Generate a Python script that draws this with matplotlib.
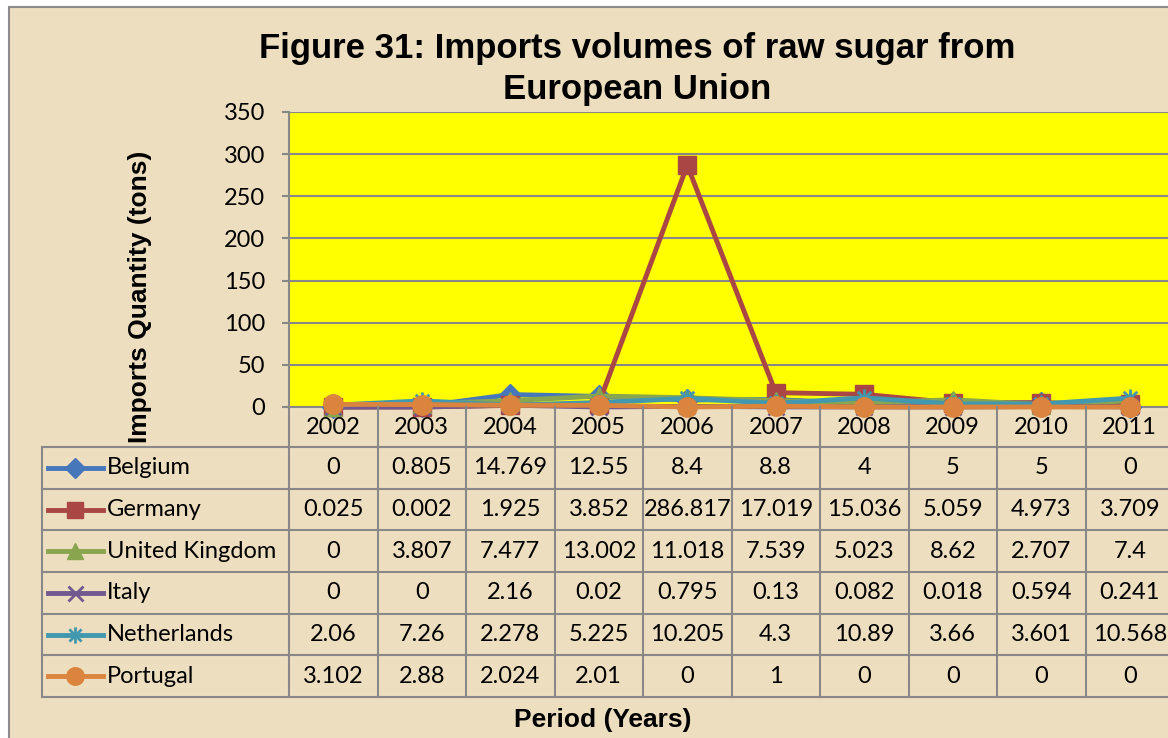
import matplotlib.pyplot as plt
from matplotlib.lines import Line2D
from matplotlib.patches import Rectangle
from matplotlib.path import Path
from matplotlib.transforms import blended_transform_factory

# Data (tons)
years = ["2002", "2003", "2004", "2005", "2006", "2007", "2008", "2009", "2010", "2011"]
belgium = [0, 0.805, 14.769, 12.55, 8.4, 8.8, 4, 5, 5, 0]
germany = [0.025, 0.002, 1.925, 3.852, 286.817, 17.019, 15.036, 5.059, 4.973, 3.709]
united_kingdom = [0, 3.807, 7.477, 13.002, 11.018, 7.539, 5.023, 8.62, 2.707, 7.4]
italy = [0, 0, 2.16, 0.02, 0.795, 0.13, 0.082, 0.018, 0.594, 0.241]
netherlands = [2.06, 7.26, 2.278, 5.225, 10.205, 4.3, 10.89, 3.66, 3.601, 10.568]
portugal = [3.102, 2.88, 2.024, 2.01, 0, 1, 0, 0, 0, 0]

countries = ["Belgium", "Germany", "United Kingdom", "Italy", "Netherlands", "Portugal"]
series = [belgium, germany, united_kingdom, italy, netherlands, portugal]
colors = ["#4677BA", "#AA4643", "#89A54E", "#71588F", "#4198AF", "#DB843D"]

# Excel style "star" marker: vertical bar plus an X
star = Path([(0, -1), (0, 1), (-0.75, -0.75), (0.75, 0.75), (-0.75, 0.75), (0.75, -0.75)],
            [Path.MOVETO, Path.LINETO] * 3)
markers = ["D", "s", "^", "x", star, "o"]
msizes = [11, 13, 13, 12, 13, 14]
thin = [False, False, False, True, True, False]

W, H = 1168, 738
GRID = "#888888"
PAPER = "#EDDEBF"
NUM_FONT = "Lato"
HEAD_FONT = "Liberation Sans"


def fx(x):
    return x / W


def fy(y):
    return 1 - y / H


fig = plt.figure(figsize=(W / 100, H / 100), dpi=100)
fig.patch.set_facecolor("white")

# Chart area (parchment) with gray border, cut off on right/bottom like the source
fig.add_artist(Rectangle((fx(9), fy(760)), fx(1200 - 9), (760 - 7) / H,
                         transform=fig.transFigure, facecolor=PAPER,
                         edgecolor="#8C8C8C", linewidth=1.5, zorder=0))

ax = fig.add_axes([fx(289), fy(407), fx(1174 - 289), (407 - 112) / H])
ax.set_facecolor("#FFFF00")

x = list(range(len(years)))
for vals, col, mk, ms, th in zip(series, colors, markers, msizes, thin):
    ax.plot(x, vals, color=col, linewidth=3.5, marker=mk, markersize=ms,
            markerfacecolor=col, markeredgecolor=col,
            markeredgewidth=2 if th else 1, clip_on=False, zorder=3)

ax.set_xlim(-0.5, len(years) - 0.5)
ax.set_ylim(0, 350)
ax.set_yticks(range(0, 351, 50))
ax.set_xticks([])
ax.grid(axis="y", color=GRID, linewidth=1.5)
ax.set_axisbelow(True)
for side in ["top", "right"]:
    ax.spines[side].set_visible(False)
ax.spines["left"].set_color(GRID)
ax.spines["left"].set_linewidth(1.5)
ax.spines["bottom"].set_color(GRID)
ax.spines["bottom"].set_linewidth(1.5)
ax.tick_params(axis="y", length=5, width=1.5, color=GRID, pad=12,
               labelsize=17, labelcolor="black")
for lab in ax.get_yticklabels():
    lab.set_family(NUM_FONT)

# Title and axis titles
fig.text(fx(637), fy(69), "Figure 31: Imports volumes of raw sugar from\nEuropean Union",
         ha="center", va="center", fontsize=25, fontweight="bold",
         family=HEAD_FONT, linespacing=1.28)
fig.text(fx(603), fy(720), "Period (Years)", ha="center", va="center",
         fontsize=19, fontweight="bold", family=HEAD_FONT)
fig.text(fx(140), fy(297), "Imports Quantity (tons)", ha="center", va="center",
         rotation=90, fontsize=19, fontweight="bold", family=HEAD_FONT)

# Data table under the plot
tr = blended_transform_factory(ax.transData, fig.transFigure)
row_top = 447
row_h = 41.67
n_rows = len(countries)
table_bottom = row_top + n_rows * row_h

# year header row
for i, yr in enumerate(years):
    fig.text(i, fy(427), yr, transform=tr, ha="center", va="center",
             fontsize=17, family=NUM_FONT)

# vertical lines between columns
for i in range(len(years) + 1):
    fig.add_artist(Line2D([i - 0.5, i - 0.5], [fy(407), fy(table_bottom)],
                          transform=tr, color=GRID, linewidth=1.5))
fig.add_artist(Line2D([fx(42), fx(42)], [fy(row_top), fy(table_bottom)],
                      transform=fig.transFigure, color=GRID, linewidth=1.5))

# horizontal lines
for r in range(n_rows + 1):
    yy = fy(row_top + r * row_h)
    fig.add_artist(Line2D([fx(42), fx(1200)], [yy, yy],
                          transform=fig.transFigure, color=GRID, linewidth=1.5))

for r, (name, vals, col, mk, ms, th) in enumerate(zip(countries, series, colors,
                                                      markers, msizes, thin)):
    yc = fy(row_top + (r + 0.5) * row_h)
    fig.add_artist(Line2D([fx(48), fx(75), fx(103)], [yc, yc, yc],
                          transform=fig.transFigure, color=col, linewidth=3.5,
                          marker=mk, markevery=[1], markersize=ms * 0.9,
                          markerfacecolor=col, markeredgecolor=col,
                          markeredgewidth=2 if th else 1))
    fig.text(fx(107), yc, name, ha="left", va="center", fontsize=17,
             family=NUM_FONT)
    for i, v in enumerate(vals):
        fig.text(i, yc, f"{v:g}", transform=tr, ha="center", va="center",
                 fontsize=17, family=NUM_FONT)

fig.savefig("out.png", dpi=100)
